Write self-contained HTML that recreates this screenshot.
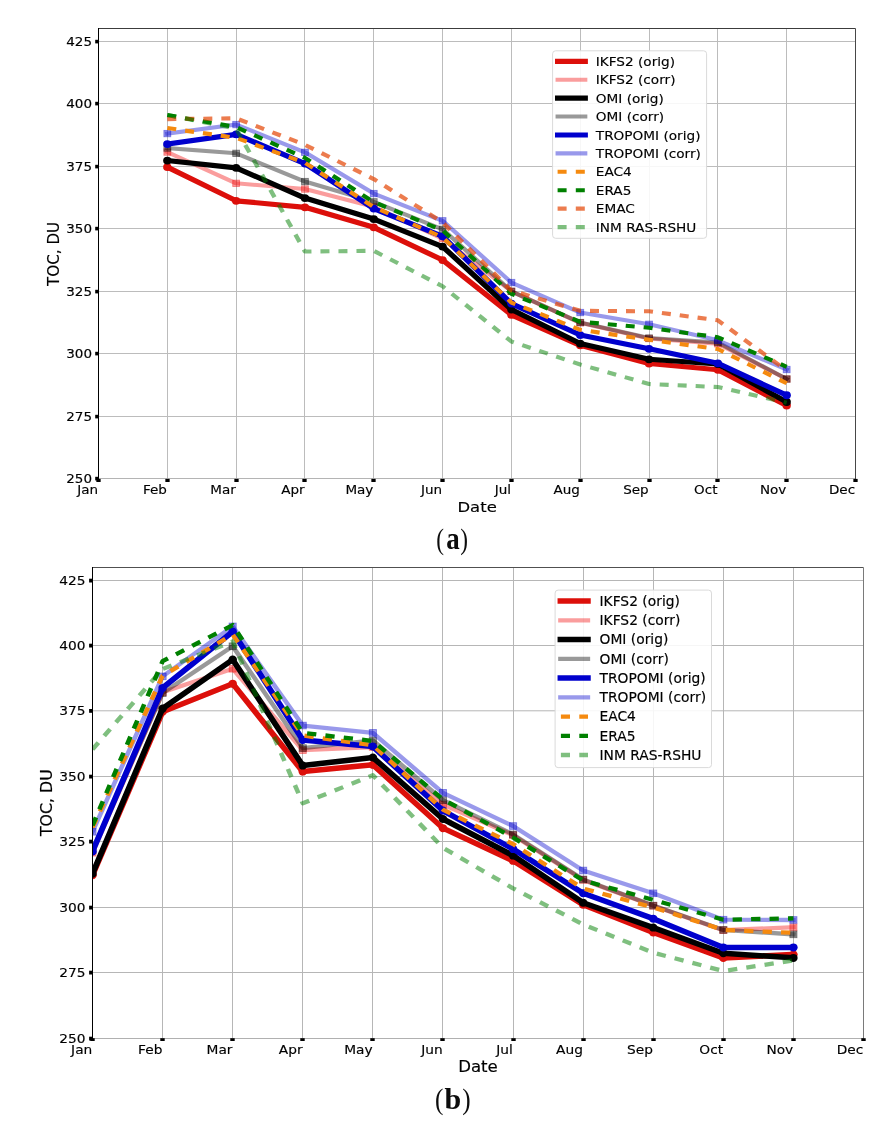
<!DOCTYPE html>
<html lang="en">
<head>
<meta charset="utf-8">
<title>TOC time series</title>
<style>
html,body{margin:0;padding:0;background:#fff;}
body{width:894px;height:1126px;overflow:hidden;}
svg{display:block;will-change:transform;}
</style>
</head>
<body>

<svg width="894" height="1126" viewBox="0 0 894 1126">
<rect width="894" height="1126" fill="#fff"/>
<g font-family='"DejaVu Sans", "Liberation Sans", sans-serif' font-size="12.4" fill="#000">
<clipPath id="clipA"><rect x="98.5" y="28.5" width="757" height="450"/></clipPath>
<rect x="98.5" y="28.5" width="757" height="450" fill="#fff"/>
<path d="M167.5 28.5V478.5M236.5 28.5V478.5M304.5 28.5V478.5M373.5 28.5V478.5M442.5 28.5V478.5M511.5 28.5V478.5M580.5 28.5V478.5M649.5 28.5V478.5M717.5 28.5V478.5M786.5 28.5V478.5M98.5 416.5H855.5M98.5 353.5H855.5M98.5 291.5H855.5M98.5 228.5H855.5M98.5 166.5H855.5M98.5 103.5H855.5M98.5 41.5H855.5" stroke="#bcbcbc" stroke-width="1" fill="none"/>
<path d="M98.5 478.5H855.5" stroke="#b4b4b4" stroke-width="1" fill="none"/>
<g clip-path="url(#clipA)" fill="none" stroke-linejoin="round"><g transform="scale(1.0680 1)">
<polyline points="156.66,167.07 221.1,200.82 285.54,207.32 349.97,227.31 414.41,260.05 478.85,314.79 543.28,345.28 607.72,363.53 672.16,369.78 736.59,405.52" stroke="#dc0f0a" stroke-width="5.2" stroke-opacity="1" stroke-linecap="square"/>
<circle cx="156.66" cy="167.07" r="3.9" fill="#dc0f0a" stroke="none"/>
<circle cx="221.1" cy="200.82" r="3.9" fill="#dc0f0a" stroke="none"/>
<circle cx="285.54" cy="207.32" r="3.9" fill="#dc0f0a" stroke="none"/>
<circle cx="349.97" cy="227.31" r="3.9" fill="#dc0f0a" stroke="none"/>
<circle cx="414.41" cy="260.05" r="3.9" fill="#dc0f0a" stroke="none"/>
<circle cx="478.85" cy="314.79" r="3.9" fill="#dc0f0a" stroke="none"/>
<circle cx="543.28" cy="345.28" r="3.9" fill="#dc0f0a" stroke="none"/>
<circle cx="607.72" cy="363.53" r="3.9" fill="#dc0f0a" stroke="none"/>
<circle cx="672.16" cy="369.78" r="3.9" fill="#dc0f0a" stroke="none"/>
<circle cx="736.59" cy="405.52" r="3.9" fill="#dc0f0a" stroke="none"/>
<polyline points="156.66,152.08 221.1,183.32 285.54,189.07 349.97,206.82 414.41,238.56 478.85,291.29 543.28,322.79 607.72,338.53 672.16,343.78 736.59,379.02" stroke="#f20a0a" stroke-width="4.1" stroke-opacity="0.4" stroke-linecap="square"/>
<rect x="153.46" y="148.88" width="6.4" height="6.4" fill="#f20a0a" fill-opacity="0.4" stroke="#f20a0a" stroke-opacity="0.4" stroke-width="0.9" stroke-linejoin="miter"/>
<rect x="217.9" y="180.12" width="6.4" height="6.4" fill="#f20a0a" fill-opacity="0.4" stroke="#f20a0a" stroke-opacity="0.4" stroke-width="0.9" stroke-linejoin="miter"/>
<rect x="282.34" y="185.87" width="6.4" height="6.4" fill="#f20a0a" fill-opacity="0.4" stroke="#f20a0a" stroke-opacity="0.4" stroke-width="0.9" stroke-linejoin="miter"/>
<rect x="346.77" y="203.62" width="6.4" height="6.4" fill="#f20a0a" fill-opacity="0.4" stroke="#f20a0a" stroke-opacity="0.4" stroke-width="0.9" stroke-linejoin="miter"/>
<rect x="411.21" y="235.36" width="6.4" height="6.4" fill="#f20a0a" fill-opacity="0.4" stroke="#f20a0a" stroke-opacity="0.4" stroke-width="0.9" stroke-linejoin="miter"/>
<rect x="475.65" y="288.09" width="6.4" height="6.4" fill="#f20a0a" fill-opacity="0.4" stroke="#f20a0a" stroke-opacity="0.4" stroke-width="0.9" stroke-linejoin="miter"/>
<rect x="540.08" y="319.59" width="6.4" height="6.4" fill="#f20a0a" fill-opacity="0.4" stroke="#f20a0a" stroke-opacity="0.4" stroke-width="0.9" stroke-linejoin="miter"/>
<rect x="604.52" y="335.33" width="6.4" height="6.4" fill="#f20a0a" fill-opacity="0.4" stroke="#f20a0a" stroke-opacity="0.4" stroke-width="0.9" stroke-linejoin="miter"/>
<rect x="668.96" y="340.58" width="6.4" height="6.4" fill="#f20a0a" fill-opacity="0.4" stroke="#f20a0a" stroke-opacity="0.4" stroke-width="0.9" stroke-linejoin="miter"/>
<rect x="733.39" y="375.82" width="6.4" height="6.4" fill="#f20a0a" fill-opacity="0.4" stroke="#f20a0a" stroke-opacity="0.4" stroke-width="0.9" stroke-linejoin="miter"/>
<polyline points="156.66,160.58 221.1,167.82 285.54,198.07 349.97,219.06 414.41,246.56 478.85,309.54 543.28,343.53 607.72,359.28 672.16,364.03 736.59,402.02" stroke="#000000" stroke-width="5.2" stroke-opacity="1" stroke-linecap="square"/>
<circle cx="156.66" cy="160.58" r="3.9" fill="#000000" stroke="none"/>
<circle cx="221.1" cy="167.82" r="3.9" fill="#000000" stroke="none"/>
<circle cx="285.54" cy="198.07" r="3.9" fill="#000000" stroke="none"/>
<circle cx="349.97" cy="219.06" r="3.9" fill="#000000" stroke="none"/>
<circle cx="414.41" cy="246.56" r="3.9" fill="#000000" stroke="none"/>
<circle cx="478.85" cy="309.54" r="3.9" fill="#000000" stroke="none"/>
<circle cx="543.28" cy="343.53" r="3.9" fill="#000000" stroke="none"/>
<circle cx="607.72" cy="359.28" r="3.9" fill="#000000" stroke="none"/>
<circle cx="672.16" cy="364.03" r="3.9" fill="#000000" stroke="none"/>
<circle cx="736.59" cy="402.02" r="3.9" fill="#000000" stroke="none"/>
<polyline points="156.66,148.08 221.1,153.33 285.54,181.57 349.97,201.82 414.41,229.31 478.85,291.29 543.28,322.54 607.72,338.03 672.16,342.53 736.59,379.02" stroke="#000000" stroke-width="4.1" stroke-opacity="0.4" stroke-linecap="square"/>
<rect x="153.46" y="144.88" width="6.4" height="6.4" fill="#000000" fill-opacity="0.4" stroke="#000000" stroke-opacity="0.4" stroke-width="0.9" stroke-linejoin="miter"/>
<rect x="217.9" y="150.13" width="6.4" height="6.4" fill="#000000" fill-opacity="0.4" stroke="#000000" stroke-opacity="0.4" stroke-width="0.9" stroke-linejoin="miter"/>
<rect x="282.34" y="178.37" width="6.4" height="6.4" fill="#000000" fill-opacity="0.4" stroke="#000000" stroke-opacity="0.4" stroke-width="0.9" stroke-linejoin="miter"/>
<rect x="346.77" y="198.62" width="6.4" height="6.4" fill="#000000" fill-opacity="0.4" stroke="#000000" stroke-opacity="0.4" stroke-width="0.9" stroke-linejoin="miter"/>
<rect x="411.21" y="226.11" width="6.4" height="6.4" fill="#000000" fill-opacity="0.4" stroke="#000000" stroke-opacity="0.4" stroke-width="0.9" stroke-linejoin="miter"/>
<rect x="475.65" y="288.09" width="6.4" height="6.4" fill="#000000" fill-opacity="0.4" stroke="#000000" stroke-opacity="0.4" stroke-width="0.9" stroke-linejoin="miter"/>
<rect x="540.08" y="319.34" width="6.4" height="6.4" fill="#000000" fill-opacity="0.4" stroke="#000000" stroke-opacity="0.4" stroke-width="0.9" stroke-linejoin="miter"/>
<rect x="604.52" y="334.83" width="6.4" height="6.4" fill="#000000" fill-opacity="0.4" stroke="#000000" stroke-opacity="0.4" stroke-width="0.9" stroke-linejoin="miter"/>
<rect x="668.96" y="339.33" width="6.4" height="6.4" fill="#000000" fill-opacity="0.4" stroke="#000000" stroke-opacity="0.4" stroke-width="0.9" stroke-linejoin="miter"/>
<rect x="733.39" y="375.82" width="6.4" height="6.4" fill="#000000" fill-opacity="0.4" stroke="#000000" stroke-opacity="0.4" stroke-width="0.9" stroke-linejoin="miter"/>
<polyline points="156.66,144.08 221.1,134.33 285.54,163.58 349.97,208.56 414.41,236.31 478.85,303.54 543.28,335.03 607.72,348.78 672.16,363.28 736.59,395.27" stroke="#0000cd" stroke-width="5.2" stroke-opacity="1" stroke-linecap="square"/>
<circle cx="156.66" cy="144.08" r="3.9" fill="#0000cd" stroke="none"/>
<circle cx="221.1" cy="134.33" r="3.9" fill="#0000cd" stroke="none"/>
<circle cx="285.54" cy="163.58" r="3.9" fill="#0000cd" stroke="none"/>
<circle cx="349.97" cy="208.56" r="3.9" fill="#0000cd" stroke="none"/>
<circle cx="414.41" cy="236.31" r="3.9" fill="#0000cd" stroke="none"/>
<circle cx="478.85" cy="303.54" r="3.9" fill="#0000cd" stroke="none"/>
<circle cx="543.28" cy="335.03" r="3.9" fill="#0000cd" stroke="none"/>
<circle cx="607.72" cy="348.78" r="3.9" fill="#0000cd" stroke="none"/>
<circle cx="672.16" cy="363.28" r="3.9" fill="#0000cd" stroke="none"/>
<circle cx="736.59" cy="395.27" r="3.9" fill="#0000cd" stroke="none"/>
<polyline points="156.66,133.58 221.1,124.58 285.54,152.33 349.97,193.57 414.41,220.81 478.85,282.55 543.28,312.54 607.72,324.29 672.16,340.28 736.59,369.53" stroke="#0000cd" stroke-width="4.1" stroke-opacity="0.4" stroke-linecap="square"/>
<rect x="153.46" y="130.38" width="6.4" height="6.4" fill="#0000cd" fill-opacity="0.4" stroke="#0000cd" stroke-opacity="0.4" stroke-width="0.9" stroke-linejoin="miter"/>
<rect x="217.9" y="121.38" width="6.4" height="6.4" fill="#0000cd" fill-opacity="0.4" stroke="#0000cd" stroke-opacity="0.4" stroke-width="0.9" stroke-linejoin="miter"/>
<rect x="282.34" y="149.13" width="6.4" height="6.4" fill="#0000cd" fill-opacity="0.4" stroke="#0000cd" stroke-opacity="0.4" stroke-width="0.9" stroke-linejoin="miter"/>
<rect x="346.77" y="190.37" width="6.4" height="6.4" fill="#0000cd" fill-opacity="0.4" stroke="#0000cd" stroke-opacity="0.4" stroke-width="0.9" stroke-linejoin="miter"/>
<rect x="411.21" y="217.61" width="6.4" height="6.4" fill="#0000cd" fill-opacity="0.4" stroke="#0000cd" stroke-opacity="0.4" stroke-width="0.9" stroke-linejoin="miter"/>
<rect x="475.65" y="279.35" width="6.4" height="6.4" fill="#0000cd" fill-opacity="0.4" stroke="#0000cd" stroke-opacity="0.4" stroke-width="0.9" stroke-linejoin="miter"/>
<rect x="540.08" y="309.34" width="6.4" height="6.4" fill="#0000cd" fill-opacity="0.4" stroke="#0000cd" stroke-opacity="0.4" stroke-width="0.9" stroke-linejoin="miter"/>
<rect x="604.52" y="321.09" width="6.4" height="6.4" fill="#0000cd" fill-opacity="0.4" stroke="#0000cd" stroke-opacity="0.4" stroke-width="0.9" stroke-linejoin="miter"/>
<rect x="668.96" y="337.08" width="6.4" height="6.4" fill="#0000cd" fill-opacity="0.4" stroke="#0000cd" stroke-opacity="0.4" stroke-width="0.9" stroke-linejoin="miter"/>
<rect x="733.39" y="366.33" width="6.4" height="6.4" fill="#0000cd" fill-opacity="0.4" stroke="#0000cd" stroke-opacity="0.4" stroke-width="0.9" stroke-linejoin="miter"/>
<polyline points="156.66,128.08 221.1,137.83 285.54,162.83 349.97,207.07 414.41,237.31 478.85,302.54 543.28,329.79 607.72,339.78 672.16,349.03 736.59,383.27" stroke="#f58a0f" stroke-width="4.1" stroke-opacity="1" stroke-dasharray="8.43 8.43"/>
<polyline points="156.66,115.09 221.1,127.08 285.54,157.83 349.97,202.07 414.41,230.31 478.85,293.79 543.28,321.79 607.72,327.79 672.16,337.28 736.59,366.78" stroke="#008000" stroke-width="4.1" stroke-opacity="1" stroke-dasharray="8.43 8.43"/>
<polyline points="156.66,119.09 221.1,118.34 285.54,144.83 349.97,179.07 414.41,222.31 478.85,290.55 543.28,310.79 607.72,311.29 672.16,320.29 736.59,370.53" stroke="#e44503" stroke-width="4.1" stroke-opacity="0.7" stroke-dasharray="8.43 8.43"/>
<polyline points="156.66,115.09 221.1,128.58 285.54,251.55 349.97,250.8 414.41,286.3 478.85,341.53 543.28,364.53 607.72,384.02 672.16,387.02 736.59,402.77" stroke="#008000" stroke-width="4.1" stroke-opacity="0.5" stroke-dasharray="8.43 8.43"/>
</g></g>
<path d="M98.5 28.5H855.5" stroke="#3c3c3c" stroke-width="1" fill="none"/>
<path d="M855.5 28.5V479" stroke="#484848" stroke-width="1" fill="none"/>
<path d="M98.5 28V479" stroke="#000" stroke-width="1" fill="none"/>
<rect x="96.35" y="478.9" width="4.3" height="3.1" fill="#000"/>
<rect x="165.35" y="478.9" width="4.3" height="3.1" fill="#000"/>
<rect x="234.35" y="478.9" width="4.3" height="3.1" fill="#000"/>
<rect x="302.35" y="478.9" width="4.3" height="3.1" fill="#000"/>
<rect x="371.35" y="478.9" width="4.3" height="3.1" fill="#000"/>
<rect x="440.35" y="478.9" width="4.3" height="3.1" fill="#000"/>
<rect x="509.35" y="478.9" width="4.3" height="3.1" fill="#000"/>
<rect x="578.35" y="478.9" width="4.3" height="3.1" fill="#000"/>
<rect x="647.35" y="478.9" width="4.3" height="3.1" fill="#000"/>
<rect x="715.35" y="478.9" width="4.3" height="3.1" fill="#000"/>
<rect x="784.35" y="478.9" width="4.3" height="3.1" fill="#000"/>
<rect x="853.35" y="478.9" width="4.3" height="3.1" fill="#000"/>
<rect x="95.2" y="476.8" width="3.1" height="3.6" fill="#000"/>
<rect x="95.2" y="414.8" width="3.1" height="3.6" fill="#000"/>
<rect x="95.2" y="351.8" width="3.1" height="3.6" fill="#000"/>
<rect x="95.2" y="289.8" width="3.1" height="3.6" fill="#000"/>
<rect x="95.2" y="226.8" width="3.1" height="3.6" fill="#000"/>
<rect x="95.2" y="164.8" width="3.1" height="3.6" fill="#000"/>
<rect x="95.2" y="101.8" width="3.1" height="3.6" fill="#000"/>
<rect x="95.2" y="39.8" width="3.1" height="3.6" fill="#000"/>
<text transform="translate(98.1 494) scale(1.090 1.000)" text-anchor="end" stroke="#000" stroke-width="0.15">Jan</text>
<text transform="translate(166.92 494) scale(1.090 1.000)" text-anchor="end" stroke="#000" stroke-width="0.15">Feb</text>
<text transform="translate(235.74 494) scale(1.090 1.000)" text-anchor="end" stroke="#000" stroke-width="0.15">Mar</text>
<text transform="translate(304.55 494) scale(1.090 1.000)" text-anchor="end" stroke="#000" stroke-width="0.15">Apr</text>
<text transform="translate(373.37 494) scale(1.090 1.000)" text-anchor="end" stroke="#000" stroke-width="0.15">May</text>
<text transform="translate(442.19 494) scale(1.090 1.000)" text-anchor="end" stroke="#000" stroke-width="0.15">Jun</text>
<text transform="translate(511.01 494) scale(1.090 1.000)" text-anchor="end" stroke="#000" stroke-width="0.15">Jul</text>
<text transform="translate(579.83 494) scale(1.090 1.000)" text-anchor="end" stroke="#000" stroke-width="0.15">Aug</text>
<text transform="translate(648.65 494) scale(1.090 1.000)" text-anchor="end" stroke="#000" stroke-width="0.15">Sep</text>
<text transform="translate(717.46 494) scale(1.090 1.000)" text-anchor="end" stroke="#000" stroke-width="0.15">Oct</text>
<text transform="translate(786.28 494) scale(1.090 1.000)" text-anchor="end" stroke="#000" stroke-width="0.15">Nov</text>
<text transform="translate(855.1 494) scale(1.090 1.000)" text-anchor="end" stroke="#000" stroke-width="0.15">Dec</text>
<text transform="translate(92 482.9) scale(1.090 1.000)" text-anchor="end" stroke="#000" stroke-width="0.15">250</text>
<text transform="translate(92 420.9) scale(1.090 1.000)" text-anchor="end" stroke="#000" stroke-width="0.15">275</text>
<text transform="translate(92 357.9) scale(1.090 1.000)" text-anchor="end" stroke="#000" stroke-width="0.15">300</text>
<text transform="translate(92 295.9) scale(1.090 1.000)" text-anchor="end" stroke="#000" stroke-width="0.15">325</text>
<text transform="translate(92 232.9) scale(1.090 1.000)" text-anchor="end" stroke="#000" stroke-width="0.15">350</text>
<text transform="translate(92 170.9) scale(1.090 1.000)" text-anchor="end" stroke="#000" stroke-width="0.15">375</text>
<text transform="translate(92 107.9) scale(1.090 1.000)" text-anchor="end" stroke="#000" stroke-width="0.15">400</text>
<text transform="translate(92 45.9) scale(1.090 1.000)" text-anchor="end" stroke="#000" stroke-width="0.15">425</text>
<text transform="translate(477.1 511.8) scale(1.120 1.000)" text-anchor="middle" font-size="14.7" stroke="#000" stroke-width="0.15">Date</text>
<text transform="translate(59.1 253.9) rotate(-90) scale(1.030 1.120)" text-anchor="middle" font-size="14.7" stroke="#000" stroke-width="0.15">TOC, DU</text>
<rect x="552.6" y="50.8" width="154" height="187.5" rx="3" ry="3" fill="#fff" fill-opacity="0.88" stroke="#dadada" stroke-width="1"/>
<path d="M557.6 61.3H585.3" stroke="#dc0f0a" stroke-width="5.2" stroke-opacity="1" fill="none" stroke-linecap="square"/>
<text transform="translate(595.8 65.9) scale(1.075 1.000)" text-anchor="start" font-size="12.7" stroke="#000" stroke-width="0.15">IKFS2 (orig)</text>
<path d="M557.6 79.72H585.3" stroke="#f20a0a" stroke-width="4.1" stroke-opacity="0.4" fill="none" stroke-linecap="square"/>
<text transform="translate(595.8 84.32) scale(1.075 1.000)" text-anchor="start" font-size="12.7" stroke="#000" stroke-width="0.15">IKFS2 (corr)</text>
<path d="M557.6 98.14H585.3" stroke="#000000" stroke-width="5.2" stroke-opacity="1" fill="none" stroke-linecap="square"/>
<text transform="translate(595.8 102.74) scale(1.075 1.000)" text-anchor="start" font-size="12.7" stroke="#000" stroke-width="0.15">OMI (orig)</text>
<path d="M557.6 116.56H585.3" stroke="#000000" stroke-width="4.1" stroke-opacity="0.4" fill="none" stroke-linecap="square"/>
<text transform="translate(595.8 121.16) scale(1.075 1.000)" text-anchor="start" font-size="12.7" stroke="#000" stroke-width="0.15">OMI (corr)</text>
<path d="M557.6 134.98H585.3" stroke="#0000cd" stroke-width="5.2" stroke-opacity="1" fill="none" stroke-linecap="square"/>
<text transform="translate(595.8 139.58) scale(1.075 1.000)" text-anchor="start" font-size="12.7" stroke="#000" stroke-width="0.15">TROPOMI (orig)</text>
<path d="M557.6 153.4H585.3" stroke="#0000cd" stroke-width="4.1" stroke-opacity="0.4" fill="none" stroke-linecap="square"/>
<text transform="translate(595.8 158) scale(1.075 1.000)" text-anchor="start" font-size="12.7" stroke="#000" stroke-width="0.15">TROPOMI (corr)</text>
<path d="M557.6 171.82H585.3" stroke="#f58a0f" stroke-width="4.1" stroke-opacity="1" fill="none" stroke-dasharray="9 9.2"/>
<text transform="translate(595.8 176.42) scale(1.075 1.000)" text-anchor="start" font-size="12.7" stroke="#000" stroke-width="0.15">EAC4</text>
<path d="M557.6 190.24H585.3" stroke="#008000" stroke-width="4.1" stroke-opacity="1" fill="none" stroke-dasharray="9 9.2"/>
<text transform="translate(595.8 194.84) scale(1.075 1.000)" text-anchor="start" font-size="12.7" stroke="#000" stroke-width="0.15">ERA5</text>
<path d="M557.6 208.66H585.3" stroke="#e44503" stroke-width="4.1" stroke-opacity="0.7" fill="none" stroke-dasharray="9 9.2"/>
<text transform="translate(595.8 213.26) scale(1.075 1.000)" text-anchor="start" font-size="12.7" stroke="#000" stroke-width="0.15">EMAC</text>
<path d="M557.6 227.08H585.3" stroke="#008000" stroke-width="4.1" stroke-opacity="0.5" fill="none" stroke-dasharray="9 9.2"/>
<text transform="translate(595.8 231.68) scale(1.075 1.000)" text-anchor="start" font-size="12.7" stroke="#000" stroke-width="0.15">INM RAS-RSHU</text>
</g>
<g font-family='"DejaVu Sans", "Liberation Sans", sans-serif' font-size="12.4" fill="#000">
<clipPath id="clipB"><rect x="92.5" y="567.5" width="771" height="471"/></clipPath>
<rect x="92.5" y="567.5" width="771" height="471" fill="#fff"/>
<path d="M162.5 567.5V1038.5M232.5 567.5V1038.5M302.5 567.5V1038.5M372.5 567.5V1038.5M442.5 567.5V1038.5M513.5 567.5V1038.5M583.5 567.5V1038.5M653.5 567.5V1038.5M723.5 567.5V1038.5M793.5 567.5V1038.5M92.5 972.5H863.5M92.5 907.5H863.5M92.5 841.5H863.5M92.5 776.5H863.5M92.5 710.8H863.5M92.5 645.5H863.5M92.5 580.5H863.5" stroke="#b6b6b6" stroke-width="1" fill="none"/>
<path d="M92.5 1038.5H863.5" stroke="#b0b0b0" stroke-width="1" fill="none"/>
<g clip-path="url(#clipB)" fill="none" stroke-linejoin="round"><g transform="scale(1.0600 1)">
<polyline points="87.26,875.22 153.39,711.69 219.51,683.69 285.63,771.61 351.76,764.8 417.88,828.13 484.01,860.83 550.13,904.79 616.25,932.53 682.38,957.91 748.5,954.51" stroke="#dc0f0a" stroke-width="5.5" stroke-opacity="1" stroke-linecap="square"/>
<circle cx="87.26" cy="875.22" r="4" fill="#dc0f0a" stroke="none"/>
<circle cx="153.39" cy="711.69" r="4" fill="#dc0f0a" stroke="none"/>
<circle cx="219.51" cy="683.69" r="4" fill="#dc0f0a" stroke="none"/>
<circle cx="285.63" cy="771.61" r="4" fill="#dc0f0a" stroke="none"/>
<circle cx="351.76" cy="764.8" r="4" fill="#dc0f0a" stroke="none"/>
<circle cx="417.88" cy="828.13" r="4" fill="#dc0f0a" stroke="none"/>
<circle cx="484.01" cy="860.83" r="4" fill="#dc0f0a" stroke="none"/>
<circle cx="550.13" cy="904.79" r="4" fill="#dc0f0a" stroke="none"/>
<circle cx="616.25" cy="932.53" r="4" fill="#dc0f0a" stroke="none"/>
<circle cx="682.38" cy="957.91" r="4" fill="#dc0f0a" stroke="none"/>
<circle cx="748.5" cy="954.51" r="4" fill="#dc0f0a" stroke="none"/>
<polyline points="87.26,852.72 153.39,692.32 219.51,668.77 285.63,750.15 351.76,747.01 417.88,804.58 484.01,835.19 550.13,879.93 616.25,905.84 682.38,930.17 748.5,927.29" stroke="#f20a0a" stroke-width="4.3" stroke-opacity="0.4" stroke-linecap="square"/>
<rect x="83.91" y="849.37" width="6.7" height="6.7" fill="#f20a0a" fill-opacity="0.4" stroke="#f20a0a" stroke-opacity="0.4" stroke-width="0.9" stroke-linejoin="miter"/>
<rect x="150.04" y="688.97" width="6.7" height="6.7" fill="#f20a0a" fill-opacity="0.4" stroke="#f20a0a" stroke-opacity="0.4" stroke-width="0.9" stroke-linejoin="miter"/>
<rect x="216.16" y="665.42" width="6.7" height="6.7" fill="#f20a0a" fill-opacity="0.4" stroke="#f20a0a" stroke-opacity="0.4" stroke-width="0.9" stroke-linejoin="miter"/>
<rect x="282.28" y="746.8" width="6.7" height="6.7" fill="#f20a0a" fill-opacity="0.4" stroke="#f20a0a" stroke-opacity="0.4" stroke-width="0.9" stroke-linejoin="miter"/>
<rect x="348.41" y="743.66" width="6.7" height="6.7" fill="#f20a0a" fill-opacity="0.4" stroke="#f20a0a" stroke-opacity="0.4" stroke-width="0.9" stroke-linejoin="miter"/>
<rect x="414.53" y="801.23" width="6.7" height="6.7" fill="#f20a0a" fill-opacity="0.4" stroke="#f20a0a" stroke-opacity="0.4" stroke-width="0.9" stroke-linejoin="miter"/>
<rect x="480.66" y="831.84" width="6.7" height="6.7" fill="#f20a0a" fill-opacity="0.4" stroke="#f20a0a" stroke-opacity="0.4" stroke-width="0.9" stroke-linejoin="miter"/>
<rect x="546.78" y="876.58" width="6.7" height="6.7" fill="#f20a0a" fill-opacity="0.4" stroke="#f20a0a" stroke-opacity="0.4" stroke-width="0.9" stroke-linejoin="miter"/>
<rect x="612.9" y="902.49" width="6.7" height="6.7" fill="#f20a0a" fill-opacity="0.4" stroke="#f20a0a" stroke-opacity="0.4" stroke-width="0.9" stroke-linejoin="miter"/>
<rect x="679.03" y="926.82" width="6.7" height="6.7" fill="#f20a0a" fill-opacity="0.4" stroke="#f20a0a" stroke-opacity="0.4" stroke-width="0.9" stroke-linejoin="miter"/>
<rect x="745.15" y="923.94" width="6.7" height="6.7" fill="#f20a0a" fill-opacity="0.4" stroke="#f20a0a" stroke-opacity="0.4" stroke-width="0.9" stroke-linejoin="miter"/>
<polyline points="87.26,873.65 153.39,708.55 219.51,659.62 285.63,765.59 351.76,757.48 417.88,818.97 484.01,855.6 550.13,902.7 616.25,927.56 682.38,953.2 748.5,957.91" stroke="#000000" stroke-width="5.5" stroke-opacity="1" stroke-linecap="square"/>
<circle cx="87.26" cy="873.65" r="4" fill="#000000" stroke="none"/>
<circle cx="153.39" cy="708.55" r="4" fill="#000000" stroke="none"/>
<circle cx="219.51" cy="659.62" r="4" fill="#000000" stroke="none"/>
<circle cx="285.63" cy="765.59" r="4" fill="#000000" stroke="none"/>
<circle cx="351.76" cy="757.48" r="4" fill="#000000" stroke="none"/>
<circle cx="417.88" cy="818.97" r="4" fill="#000000" stroke="none"/>
<circle cx="484.01" cy="855.6" r="4" fill="#000000" stroke="none"/>
<circle cx="550.13" cy="902.7" r="4" fill="#000000" stroke="none"/>
<circle cx="616.25" cy="927.56" r="4" fill="#000000" stroke="none"/>
<circle cx="682.38" cy="953.2" r="4" fill="#000000" stroke="none"/>
<circle cx="748.5" cy="957.91" r="4" fill="#000000" stroke="none"/>
<polyline points="87.26,850.1 153.39,693.11 219.51,646.27 285.63,748.06 351.76,740.47 417.88,800.13 484.01,834.41 550.13,879.41 616.25,905.58 682.38,929.91 748.5,934.36" stroke="#000000" stroke-width="4.3" stroke-opacity="0.4" stroke-linecap="square"/>
<rect x="83.91" y="846.75" width="6.7" height="6.7" fill="#000000" fill-opacity="0.4" stroke="#000000" stroke-opacity="0.4" stroke-width="0.9" stroke-linejoin="miter"/>
<rect x="150.04" y="689.76" width="6.7" height="6.7" fill="#000000" fill-opacity="0.4" stroke="#000000" stroke-opacity="0.4" stroke-width="0.9" stroke-linejoin="miter"/>
<rect x="216.16" y="642.92" width="6.7" height="6.7" fill="#000000" fill-opacity="0.4" stroke="#000000" stroke-opacity="0.4" stroke-width="0.9" stroke-linejoin="miter"/>
<rect x="282.28" y="744.71" width="6.7" height="6.7" fill="#000000" fill-opacity="0.4" stroke="#000000" stroke-opacity="0.4" stroke-width="0.9" stroke-linejoin="miter"/>
<rect x="348.41" y="737.12" width="6.7" height="6.7" fill="#000000" fill-opacity="0.4" stroke="#000000" stroke-opacity="0.4" stroke-width="0.9" stroke-linejoin="miter"/>
<rect x="414.53" y="796.78" width="6.7" height="6.7" fill="#000000" fill-opacity="0.4" stroke="#000000" stroke-opacity="0.4" stroke-width="0.9" stroke-linejoin="miter"/>
<rect x="480.66" y="831.06" width="6.7" height="6.7" fill="#000000" fill-opacity="0.4" stroke="#000000" stroke-opacity="0.4" stroke-width="0.9" stroke-linejoin="miter"/>
<rect x="546.78" y="876.06" width="6.7" height="6.7" fill="#000000" fill-opacity="0.4" stroke="#000000" stroke-opacity="0.4" stroke-width="0.9" stroke-linejoin="miter"/>
<rect x="612.9" y="902.23" width="6.7" height="6.7" fill="#000000" fill-opacity="0.4" stroke="#000000" stroke-opacity="0.4" stroke-width="0.9" stroke-linejoin="miter"/>
<rect x="679.03" y="926.56" width="6.7" height="6.7" fill="#000000" fill-opacity="0.4" stroke="#000000" stroke-opacity="0.4" stroke-width="0.9" stroke-linejoin="miter"/>
<rect x="745.15" y="931.01" width="6.7" height="6.7" fill="#000000" fill-opacity="0.4" stroke="#000000" stroke-opacity="0.4" stroke-width="0.9" stroke-linejoin="miter"/>
<polyline points="87.26,851.41 153.39,687.88 219.51,631.62 285.63,739.95 351.76,746.49 417.88,810.59 484.01,849.06 550.13,893.28 616.25,918.66 682.38,947.44 748.5,947.44" stroke="#0000cd" stroke-width="5.5" stroke-opacity="1" stroke-linecap="square"/>
<circle cx="87.26" cy="851.41" r="4" fill="#0000cd" stroke="none"/>
<circle cx="153.39" cy="687.88" r="4" fill="#0000cd" stroke="none"/>
<circle cx="219.51" cy="631.62" r="4" fill="#0000cd" stroke="none"/>
<circle cx="285.63" cy="739.95" r="4" fill="#0000cd" stroke="none"/>
<circle cx="351.76" cy="746.49" r="4" fill="#0000cd" stroke="none"/>
<circle cx="417.88" cy="810.59" r="4" fill="#0000cd" stroke="none"/>
<circle cx="484.01" cy="849.06" r="4" fill="#0000cd" stroke="none"/>
<circle cx="550.13" cy="893.28" r="4" fill="#0000cd" stroke="none"/>
<circle cx="616.25" cy="918.66" r="4" fill="#0000cd" stroke="none"/>
<circle cx="682.38" cy="947.44" r="4" fill="#0000cd" stroke="none"/>
<circle cx="748.5" cy="947.44" r="4" fill="#0000cd" stroke="none"/>
<polyline points="87.26,831.79 153.39,676.36 219.51,626.39 285.63,725.55 351.76,732.88 417.88,792.8 484.01,826.03 550.13,870.51 616.25,893.28 682.38,919.71 748.5,919.97" stroke="#0000cd" stroke-width="4.3" stroke-opacity="0.4" stroke-linecap="square"/>
<rect x="83.91" y="828.44" width="6.7" height="6.7" fill="#0000cd" fill-opacity="0.4" stroke="#0000cd" stroke-opacity="0.4" stroke-width="0.9" stroke-linejoin="miter"/>
<rect x="150.04" y="673.01" width="6.7" height="6.7" fill="#0000cd" fill-opacity="0.4" stroke="#0000cd" stroke-opacity="0.4" stroke-width="0.9" stroke-linejoin="miter"/>
<rect x="216.16" y="623.04" width="6.7" height="6.7" fill="#0000cd" fill-opacity="0.4" stroke="#0000cd" stroke-opacity="0.4" stroke-width="0.9" stroke-linejoin="miter"/>
<rect x="282.28" y="722.2" width="6.7" height="6.7" fill="#0000cd" fill-opacity="0.4" stroke="#0000cd" stroke-opacity="0.4" stroke-width="0.9" stroke-linejoin="miter"/>
<rect x="348.41" y="729.53" width="6.7" height="6.7" fill="#0000cd" fill-opacity="0.4" stroke="#0000cd" stroke-opacity="0.4" stroke-width="0.9" stroke-linejoin="miter"/>
<rect x="414.53" y="789.45" width="6.7" height="6.7" fill="#0000cd" fill-opacity="0.4" stroke="#0000cd" stroke-opacity="0.4" stroke-width="0.9" stroke-linejoin="miter"/>
<rect x="480.66" y="822.68" width="6.7" height="6.7" fill="#0000cd" fill-opacity="0.4" stroke="#0000cd" stroke-opacity="0.4" stroke-width="0.9" stroke-linejoin="miter"/>
<rect x="546.78" y="867.16" width="6.7" height="6.7" fill="#0000cd" fill-opacity="0.4" stroke="#0000cd" stroke-opacity="0.4" stroke-width="0.9" stroke-linejoin="miter"/>
<rect x="612.9" y="889.93" width="6.7" height="6.7" fill="#0000cd" fill-opacity="0.4" stroke="#0000cd" stroke-opacity="0.4" stroke-width="0.9" stroke-linejoin="miter"/>
<rect x="679.03" y="916.36" width="6.7" height="6.7" fill="#0000cd" fill-opacity="0.4" stroke="#0000cd" stroke-opacity="0.4" stroke-width="0.9" stroke-linejoin="miter"/>
<rect x="745.15" y="916.62" width="6.7" height="6.7" fill="#0000cd" fill-opacity="0.4" stroke="#0000cd" stroke-opacity="0.4" stroke-width="0.9" stroke-linejoin="miter"/>
<polyline points="87.26,827.34 153.39,675.84 219.51,634.5 285.63,735.5 351.76,745.18 417.88,809.55 484.01,844.09 550.13,888.57 616.25,907.41 682.38,929.91 748.5,932.79" stroke="#f58a0f" stroke-width="4.3" stroke-opacity="1" stroke-dasharray="8.77 8.64"/>
<polyline points="87.26,825.51 153.39,661.19 219.51,625.08 285.63,732.88 351.76,740.99 417.88,799.34 484.01,837.55 550.13,880.46 616.25,899.82 682.38,919.71 748.5,918.4" stroke="#008000" stroke-width="4.3" stroke-opacity="1" stroke-dasharray="8.77 8.64"/>
<polyline points="87.26,749.37 153.39,669.04 219.51,641.56 285.63,803.27 351.76,775.27 417.88,847.75 484.01,888.31 550.13,924.42 616.25,952.68 682.38,970.99 748.5,960.53" stroke="#008000" stroke-width="4.3" stroke-opacity="0.5" stroke-dasharray="8.77 8.64"/>
</g></g>
<path d="M92.5 567.5H863.5" stroke="#505050" stroke-width="1" fill="none"/>
<path d="M863.5 567.5V1039" stroke="#7a7a7a" stroke-width="1" fill="none"/>
<path d="M92.5 567V1039" stroke="#000" stroke-width="1" fill="none"/>
<rect x="90.3" y="1038.2" width="4.4" height="2.8" fill="#000"/>
<rect x="160.3" y="1038.2" width="4.4" height="2.8" fill="#000"/>
<rect x="230.3" y="1038.2" width="4.4" height="2.8" fill="#000"/>
<rect x="300.3" y="1038.2" width="4.4" height="2.8" fill="#000"/>
<rect x="370.3" y="1038.2" width="4.4" height="2.8" fill="#000"/>
<rect x="440.3" y="1038.2" width="4.4" height="2.8" fill="#000"/>
<rect x="511.3" y="1038.2" width="4.4" height="2.8" fill="#000"/>
<rect x="581.3" y="1038.2" width="4.4" height="2.8" fill="#000"/>
<rect x="651.3" y="1038.2" width="4.4" height="2.8" fill="#000"/>
<rect x="721.3" y="1038.2" width="4.4" height="2.8" fill="#000"/>
<rect x="791.3" y="1038.2" width="4.4" height="2.8" fill="#000"/>
<rect x="861.3" y="1038.2" width="4.4" height="2.8" fill="#000"/>
<rect x="89.1" y="1036.7" width="3.2" height="3.8" fill="#000"/>
<rect x="89.1" y="970.7" width="3.2" height="3.8" fill="#000"/>
<rect x="89.1" y="905.7" width="3.2" height="3.8" fill="#000"/>
<rect x="89.1" y="839.7" width="3.2" height="3.8" fill="#000"/>
<rect x="89.1" y="774.7" width="3.2" height="3.8" fill="#000"/>
<rect x="89.1" y="709" width="3.2" height="3.8" fill="#000"/>
<rect x="89.1" y="643.7" width="3.2" height="3.8" fill="#000"/>
<rect x="89.1" y="578.7" width="3.2" height="3.8" fill="#000"/>
<text transform="translate(92.3 1053.9) scale(1.110 1.047)" text-anchor="end" stroke="#000" stroke-width="0.15">Jan</text>
<text transform="translate(162.39 1053.9) scale(1.110 1.047)" text-anchor="end" stroke="#000" stroke-width="0.15">Feb</text>
<text transform="translate(232.48 1053.9) scale(1.110 1.047)" text-anchor="end" stroke="#000" stroke-width="0.15">Mar</text>
<text transform="translate(302.57 1053.9) scale(1.110 1.047)" text-anchor="end" stroke="#000" stroke-width="0.15">Apr</text>
<text transform="translate(372.66 1053.9) scale(1.110 1.047)" text-anchor="end" stroke="#000" stroke-width="0.15">May</text>
<text transform="translate(442.75 1053.9) scale(1.110 1.047)" text-anchor="end" stroke="#000" stroke-width="0.15">Jun</text>
<text transform="translate(512.85 1053.9) scale(1.110 1.047)" text-anchor="end" stroke="#000" stroke-width="0.15">Jul</text>
<text transform="translate(582.94 1053.9) scale(1.110 1.047)" text-anchor="end" stroke="#000" stroke-width="0.15">Aug</text>
<text transform="translate(653.03 1053.9) scale(1.110 1.047)" text-anchor="end" stroke="#000" stroke-width="0.15">Sep</text>
<text transform="translate(723.12 1053.9) scale(1.110 1.047)" text-anchor="end" stroke="#000" stroke-width="0.15">Oct</text>
<text transform="translate(793.21 1053.9) scale(1.110 1.047)" text-anchor="end" stroke="#000" stroke-width="0.15">Nov</text>
<text transform="translate(863.3 1053.9) scale(1.110 1.047)" text-anchor="end" stroke="#000" stroke-width="0.15">Dec</text>
<text transform="translate(85.4 1042.6) scale(1.110 1.047)" text-anchor="end" stroke="#000" stroke-width="0.15">250</text>
<text transform="translate(85.4 976.6) scale(1.110 1.047)" text-anchor="end" stroke="#000" stroke-width="0.15">275</text>
<text transform="translate(85.4 911.6) scale(1.110 1.047)" text-anchor="end" stroke="#000" stroke-width="0.15">300</text>
<text transform="translate(85.4 845.6) scale(1.110 1.047)" text-anchor="end" stroke="#000" stroke-width="0.15">325</text>
<text transform="translate(85.4 780.6) scale(1.110 1.047)" text-anchor="end" stroke="#000" stroke-width="0.15">350</text>
<text transform="translate(85.4 714.9) scale(1.110 1.047)" text-anchor="end" stroke="#000" stroke-width="0.15">375</text>
<text transform="translate(85.4 649.6) scale(1.110 1.047)" text-anchor="end" stroke="#000" stroke-width="0.15">400</text>
<text transform="translate(85.4 584.6) scale(1.110 1.047)" text-anchor="end" stroke="#000" stroke-width="0.15">425</text>
<text transform="translate(478 1072.4) scale(1.130 1.047)" text-anchor="middle" font-size="14.7" stroke="#000" stroke-width="0.15">Date</text>
<text transform="translate(51.8 802.6) rotate(-90) scale(1.075 1.130)" text-anchor="middle" font-size="14.7" stroke="#000" stroke-width="0.15">TOC, DU</text>
<rect x="555.1" y="590.1" width="156.4" height="177.5" rx="3" ry="3" fill="#fff" fill-opacity="0.88" stroke="#dadada" stroke-width="1"/>
<path d="M560.3 601.1H588" stroke="#dc0f0a" stroke-width="5.5" stroke-opacity="1" fill="none" stroke-linecap="square"/>
<text transform="translate(599.5 605.9) scale(1.090 1.047)" text-anchor="start" font-size="12.7" stroke="#000" stroke-width="0.15">IKFS2 (orig)</text>
<path d="M560.3 620.34H588" stroke="#f20a0a" stroke-width="4.3" stroke-opacity="0.4" fill="none" stroke-linecap="square"/>
<text transform="translate(599.5 625.14) scale(1.090 1.047)" text-anchor="start" font-size="12.7" stroke="#000" stroke-width="0.15">IKFS2 (corr)</text>
<path d="M560.3 639.58H588" stroke="#000000" stroke-width="5.5" stroke-opacity="1" fill="none" stroke-linecap="square"/>
<text transform="translate(599.5 644.38) scale(1.090 1.047)" text-anchor="start" font-size="12.7" stroke="#000" stroke-width="0.15">OMI (orig)</text>
<path d="M560.3 658.82H588" stroke="#000000" stroke-width="4.3" stroke-opacity="0.4" fill="none" stroke-linecap="square"/>
<text transform="translate(599.5 663.62) scale(1.090 1.047)" text-anchor="start" font-size="12.7" stroke="#000" stroke-width="0.15">OMI (corr)</text>
<path d="M560.3 678.06H588" stroke="#0000cd" stroke-width="5.5" stroke-opacity="1" fill="none" stroke-linecap="square"/>
<text transform="translate(599.5 682.86) scale(1.090 1.047)" text-anchor="start" font-size="12.7" stroke="#000" stroke-width="0.15">TROPOMI (orig)</text>
<path d="M560.3 697.3H588" stroke="#0000cd" stroke-width="4.3" stroke-opacity="0.4" fill="none" stroke-linecap="square"/>
<text transform="translate(599.5 702.1) scale(1.090 1.047)" text-anchor="start" font-size="12.7" stroke="#000" stroke-width="0.15">TROPOMI (corr)</text>
<path d="M560.9 716.54H588" stroke="#f58a0f" stroke-width="4.3" stroke-opacity="1" fill="none" stroke-dasharray="9.1 9.3"/>
<text transform="translate(599.5 721.34) scale(1.090 1.047)" text-anchor="start" font-size="12.7" stroke="#000" stroke-width="0.15">EAC4</text>
<path d="M560.9 735.78H588" stroke="#008000" stroke-width="4.3" stroke-opacity="1" fill="none" stroke-dasharray="9.1 9.3"/>
<text transform="translate(599.5 740.58) scale(1.090 1.047)" text-anchor="start" font-size="12.7" stroke="#000" stroke-width="0.15">ERA5</text>
<path d="M560.9 755.02H588" stroke="#008000" stroke-width="4.3" stroke-opacity="0.5" fill="none" stroke-dasharray="9.1 9.3"/>
<text transform="translate(599.5 759.82) scale(1.090 1.047)" text-anchor="start" font-size="12.7" stroke="#000" stroke-width="0.15">INM RAS-RSHU</text>
</g>
<text transform="translate(436.2 549) scale(0.830 1.050)" font-family='"Liberation Serif", "DejaVu Serif", serif' font-size="28" fill="#0c0c0c">(</text>
<text transform="translate(446.2 549) scale(0.960 1.100)" font-family='"Liberation Serif", "DejaVu Serif", serif' font-size="28" font-weight="bold" fill="#0c0c0c">a</text>
<text transform="translate(460.2 549) scale(0.830 1.050)" font-family='"Liberation Serif", "DejaVu Serif", serif' font-size="28" fill="#0c0c0c">)</text>
<text transform="translate(435.1 1108.7) scale(0.900 1.085)" font-family='"Liberation Serif", "DejaVu Serif", serif' font-size="28" fill="#0c0c0c">(</text>
<text transform="translate(444.4 1109) scale(1.070 1.070)" font-family='"Liberation Serif", "DejaVu Serif", serif' font-size="28" font-weight="bold" fill="#0c0c0c">b</text>
<text transform="translate(462.3 1108.7) scale(0.900 1.085)" font-family='"Liberation Serif", "DejaVu Serif", serif' font-size="28" fill="#0c0c0c">)</text>
</svg>
</body>
</html>
